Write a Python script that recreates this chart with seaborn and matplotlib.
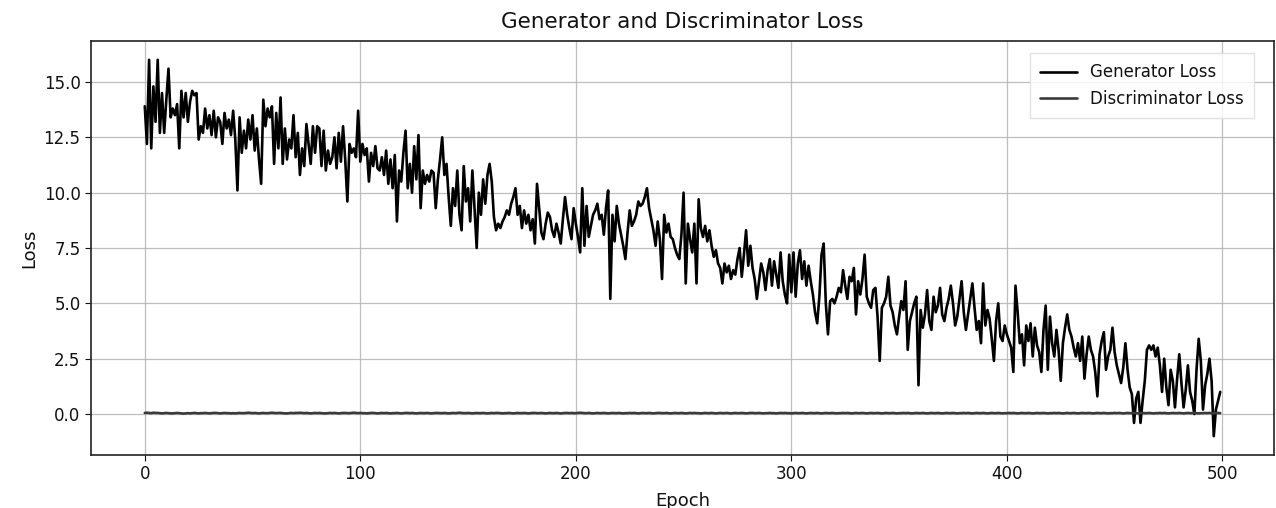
import matplotlib
matplotlib.use("Agg")
import matplotlib.pyplot as plt
import seaborn as sns
import pandas as pd

# generator loss per epoch (0..499)
gen_loss = [
    13.9, 12.2, 16.0, 12.0, 14.8, 13.2, 16.0, 12.7, 14.5, 12.7,
    14.2, 15.6, 13.4, 13.8, 13.5, 14.0, 12.0, 14.6, 13.4, 14.5,
    13.2, 14.1, 14.6, 14.4, 14.5, 12.4, 13.0, 12.7, 13.8, 12.9,
    13.5, 12.6, 13.7, 12.5, 13.4, 13.2, 12.2, 13.6, 12.9, 13.3,
    12.6, 13.7, 12.4, 10.1, 13.4, 11.8, 12.8, 12.0, 13.3, 12.4,
    13.5, 11.9, 12.9, 11.5, 10.4, 14.2, 13.0, 13.8, 13.4, 13.9,
    11.3, 13.6, 12.0, 14.3, 11.3, 12.9, 11.5, 12.4, 12.0, 13.5,
    11.6, 12.7, 10.8, 12.0, 11.2, 13.1, 12.2, 11.3, 13.0, 11.8,
    13.0, 12.9, 11.2, 12.8, 11.0, 11.9, 11.3, 11.6, 12.5, 11.1,
    12.7, 11.4, 13.0, 11.5, 9.6, 12.2, 11.8, 12.0, 11.6, 13.7,
    11.4, 12.2, 11.7, 12.0, 10.5, 11.8, 11.2, 12.1, 11.1, 11.0,
    11.6, 10.8, 11.9, 10.4, 11.5, 10.2, 11.7, 8.7, 11.0, 10.5,
    11.8, 12.8, 10.2, 11.3, 10.0, 12.1, 10.6, 12.6, 9.3, 11.0,
    10.4, 10.8, 10.5, 11.0, 10.9, 9.3, 10.6, 11.5, 12.5, 10.8,
    11.3, 9.8, 8.5, 10.2, 9.4, 11.0, 9.0, 8.3, 11.2, 9.6,
    10.2, 8.7, 11.0, 9.3, 7.5, 10.0, 9.0, 10.6, 9.5, 10.8,
    11.3, 10.5, 8.9, 8.3, 8.6, 8.4, 8.7, 8.9, 9.2, 9.0,
    9.5, 9.8, 10.2, 9.0, 9.4, 8.4, 9.2, 8.6, 9.0, 8.3,
    8.8, 7.7, 10.4, 9.3, 8.2, 7.9, 8.6, 9.1, 8.9, 8.3,
    8.0, 8.6, 8.2, 7.7, 8.8, 9.8, 9.0, 8.4, 7.9, 9.3,
    8.6, 8.0, 7.3, 10.2, 7.6, 9.4, 8.0, 8.5, 9.0, 9.2,
    9.5, 8.8, 9.0, 8.1, 9.3, 10.1, 5.2, 9.0, 7.8, 9.4,
    8.6, 8.1, 7.6, 7.0, 8.2, 9.2, 8.5, 8.7, 9.0, 9.6,
    9.4, 9.5, 9.8, 10.2, 9.3, 8.8, 8.3, 7.6, 8.7, 7.9,
    6.1, 9.0, 8.2, 8.6, 8.0, 7.9, 7.5, 7.2, 7.0, 8.1,
    10.0, 5.9, 8.6, 7.9, 7.3, 8.6, 5.9, 9.7, 8.4, 8.0,
    8.5, 7.8, 8.3, 7.6, 7.1, 7.4, 6.8, 6.6, 5.9, 6.8,
    6.4, 6.7, 6.1, 6.5, 6.3, 7.0, 7.5, 6.2, 7.2, 8.3,
    6.7, 7.6, 6.6, 6.1, 5.2, 6.0, 6.8, 6.4, 5.6, 6.5,
    7.0, 5.8, 6.9, 6.3, 5.7, 7.3, 6.0, 5.4, 5.0, 7.2,
    5.5, 7.3, 5.3, 6.8, 7.4, 6.1, 6.9, 5.8, 6.7, 6.0,
    5.4, 4.6, 4.1, 5.3, 7.2, 7.7, 5.0, 3.6, 5.1, 5.2,
    5.0, 5.3, 5.7, 5.5, 6.5, 5.8, 5.2, 6.2, 6.0, 6.6,
    4.5, 6.0, 5.4, 6.1, 7.2, 5.3, 5.0, 4.8, 5.6, 5.7,
    4.4, 2.4, 4.8, 5.0, 5.3, 6.2, 4.9, 4.6, 4.0, 3.6,
    4.4, 5.1, 4.7, 6.0, 2.9, 4.2, 4.6, 5.0, 5.3, 1.3,
    4.7, 3.9, 4.5, 5.6, 4.2, 3.8, 5.3, 4.6, 4.9, 5.7,
    4.5, 4.2, 4.8, 5.2, 5.8, 5.0, 4.0, 4.4, 5.2, 6.0,
    4.6, 3.8, 4.5, 5.2, 5.9, 4.8, 3.8, 4.2, 3.2, 5.9,
    4.0, 4.7, 4.3, 3.4, 2.4, 4.2, 5.0, 3.5, 3.3, 4.0,
    3.6, 3.3, 3.0, 1.9, 5.8, 4.6, 3.2, 3.6, 2.2, 4.0,
    3.3, 4.1, 2.6, 3.9, 3.1, 2.8, 1.9, 3.8, 4.9, 2.0,
    4.4, 3.2, 2.6, 3.8, 2.9, 1.5, 3.2, 3.9, 4.5, 3.8,
    3.5, 3.0, 2.6, 3.2, 2.4, 3.5, 1.6, 2.7, 3.5, 2.9,
    2.6, 1.9, 0.8, 2.7, 3.3, 3.7, 2.0, 2.6, 2.9, 3.9,
    2.8, 2.2, 1.8, 1.4, 2.1, 3.2, 2.0, 1.2, 0.9, -0.4,
    0.7, 1.0, -0.4, 0.6, 1.5, 2.9, 3.1, 2.9, 3.1, 2.6,
    3.0, 2.2, 1.0, 2.5, 1.2, 0.4, 2.0, 1.5, 0.3, 1.6,
    2.7, 1.4, 0.3, 1.1, 2.2, 1.0, 0.6, 0.0, 2.0, 3.4,
    2.4, 0.2, 1.3, 1.8, 2.5, 1.5, -1.0, 0.2, 0.6, 1.0,
]

# discriminator loss per epoch, hugging zero
disc_loss = [
    0.05, 0.06, 0.05, 0.04, 0.06, 0.05, 0.05, 0.04, 0.03, 0.04,
    0.05, 0.04, 0.03, 0.03, 0.04, 0.05, 0.04, 0.03, 0.02, 0.03,
    0.04, 0.03, 0.04, 0.05, 0.04, 0.03, 0.04, 0.04, 0.05, 0.04,
    0.03, 0.04, 0.05, 0.05, 0.04, 0.03, 0.04, 0.05, 0.04, 0.04,
    0.03, 0.04, 0.03, 0.04, 0.05, 0.04, 0.04, 0.05, 0.06, 0.05,
    0.04, 0.05, 0.04, 0.03, 0.04, 0.05, 0.04, 0.04, 0.05, 0.06,
    0.05, 0.04, 0.05, 0.05, 0.04, 0.03, 0.03, 0.04, 0.05, 0.04,
    0.05, 0.05, 0.06, 0.05, 0.04, 0.05, 0.04, 0.03, 0.04, 0.05,
    0.04, 0.05, 0.04, 0.03, 0.03, 0.04, 0.05, 0.04, 0.05, 0.04,
    0.03, 0.04, 0.05, 0.05, 0.04, 0.04, 0.05, 0.06, 0.05, 0.04,
    0.05, 0.04, 0.04, 0.03, 0.04, 0.05, 0.05, 0.04, 0.03, 0.04,
    0.05, 0.04, 0.05, 0.04, 0.03, 0.04, 0.04, 0.05, 0.04, 0.03,
    0.04, 0.05, 0.05, 0.04, 0.05, 0.04, 0.03, 0.04, 0.05, 0.04,
    0.04, 0.05, 0.04, 0.03, 0.04, 0.05, 0.05, 0.04, 0.04, 0.05,
    0.04, 0.03, 0.04, 0.05, 0.04, 0.05, 0.06, 0.05, 0.04, 0.04,
    0.05, 0.04, 0.03, 0.04, 0.05, 0.04, 0.04, 0.05, 0.04, 0.03,
    0.04, 0.05, 0.04, 0.05, 0.05, 0.04, 0.03, 0.04, 0.04, 0.05,
    0.04, 0.03, 0.04, 0.05, 0.04, 0.04, 0.05, 0.04, 0.03, 0.04,
    0.05, 0.05, 0.04, 0.04, 0.05, 0.04, 0.03, 0.04, 0.05, 0.04,
    0.04, 0.05, 0.04, 0.03, 0.04, 0.05, 0.05, 0.04, 0.05, 0.04,
    0.04, 0.05, 0.06, 0.05, 0.04, 0.04, 0.05, 0.04, 0.03, 0.04,
    0.05, 0.04, 0.04, 0.05, 0.04, 0.03, 0.04, 0.05, 0.04, 0.04,
    0.05, 0.04, 0.03, 0.04, 0.04, 0.05, 0.04, 0.05, 0.04, 0.03,
    0.04, 0.05, 0.04, 0.04, 0.05, 0.04, 0.03, 0.04, 0.05, 0.05,
    0.04, 0.04, 0.05, 0.04, 0.03, 0.04, 0.05, 0.04, 0.04, 0.05,
    0.04, 0.03, 0.04, 0.05, 0.04, 0.05, 0.04, 0.04, 0.03, 0.04,
    0.05, 0.04, 0.04, 0.05, 0.04, 0.03, 0.04, 0.05, 0.04, 0.04,
    0.05, 0.04, 0.03, 0.04, 0.05, 0.04, 0.04, 0.05, 0.04, 0.03,
    0.04, 0.05, 0.05, 0.04, 0.04, 0.05, 0.04, 0.03, 0.04, 0.04,
    0.05, 0.04, 0.04, 0.03, 0.04, 0.05, 0.04, 0.05, 0.04, 0.04,
    0.03, 0.04, 0.05, 0.04, 0.04, 0.05, 0.04, 0.03, 0.04, 0.05,
    0.04, 0.04, 0.05, 0.04, 0.03, 0.04, 0.05, 0.04, 0.04, 0.05,
    0.04, 0.03, 0.04, 0.04, 0.05, 0.04, 0.05, 0.04, 0.03, 0.04,
    0.05, 0.04, 0.04, 0.05, 0.04, 0.03, 0.04, 0.05, 0.04, 0.04,
    0.05, 0.04, 0.03, 0.04, 0.05, 0.04, 0.04, 0.05, 0.04, 0.03,
    0.04, 0.04, 0.05, 0.04, 0.05, 0.04, 0.03, 0.04, 0.05, 0.04,
    0.04, 0.05, 0.04, 0.03, 0.04, 0.05, 0.04, 0.04, 0.05, 0.04,
    0.03, 0.04, 0.05, 0.04, 0.04, 0.05, 0.04, 0.03, 0.04, 0.04,
    0.05, 0.04, 0.05, 0.04, 0.03, 0.04, 0.05, 0.04, 0.04, 0.05,
    0.04, 0.03, 0.04, 0.05, 0.04, 0.04, 0.05, 0.04, 0.03, 0.04,
    0.04, 0.05, 0.04, 0.05, 0.04, 0.03, 0.04, 0.05, 0.04, 0.04,
    0.05, 0.04, 0.03, 0.04, 0.05, 0.04, 0.04, 0.05, 0.04, 0.03,
    0.04, 0.04, 0.05, 0.04, 0.05, 0.04, 0.03, 0.04, 0.05, 0.04,
    0.04, 0.05, 0.04, 0.03, 0.04, 0.05, 0.04, 0.04, 0.05, 0.04,
    0.03, 0.04, 0.05, 0.04, 0.04, 0.05, 0.04, 0.03, 0.04, 0.04,
    0.05, 0.04, 0.05, 0.04, 0.03, 0.04, 0.05, 0.04, 0.04, 0.05,
    0.04, 0.03, 0.04, 0.05, 0.04, 0.04, 0.05, 0.04, 0.03, 0.04,
    0.04, 0.05, 0.04, 0.05, 0.04, 0.03, 0.04, 0.05, 0.04, 0.04,
    0.05, 0.04, 0.03, 0.04, 0.05, 0.04, 0.04, 0.05, 0.04, 0.03,
    0.04, 0.04, 0.05, 0.04, 0.05, 0.04, 0.03, 0.04, 0.05, 0.04,
]

series_names = ["Generator Loss", "Discriminator Loss"]
line_colors = ["#000000", "#3a3a3a"]

epochs = list(range(len(gen_loss)))
df = pd.DataFrame({
    "Epoch": epochs * 2,
    "Loss": gen_loss + disc_loss,
    "series": [series_names[0]] * len(gen_loss) + [series_names[1]] * len(disc_loss),
})

sns.set_style("ticks")
plt.rcParams["font.family"] = ["DejaVu Sans"]
plt.rcParams["text.color"] = "#111111"
plt.rcParams["axes.labelcolor"] = "#111111"

fig = plt.figure(figsize=(12.76, 5.08), dpi=100)
ax = fig.add_axes([91 / 1276, 1 - 455 / 508, 1183 / 1276, 414 / 508])

sns.lineplot(data=df, x="Epoch", y="Loss", hue="series", palette=line_colors,
             linewidth=1.9, ax=ax)

ax.grid(True, color="#b0b0b0", linewidth=0.9, alpha=0.8)
ax.set_axisbelow(True)
for sp in ax.spines.values():
    sp.set_color("#222222")
    sp.set_linewidth(1.2)
ax.tick_params(labelsize=12, colors="#111111", length=4)
ax.set_xlabel("Epoch", fontsize=13, labelpad=6)
ax.set_ylabel("Loss", fontsize=13)
ax.set_title("Generator and Discriminator Loss", fontsize=15.5, pad=9)
ax.set_xticks([0, 100, 200, 300, 400, 500])
ax.set_yticks([0.0, 2.5, 5.0, 7.5, 10.0, 12.5, 15.0])
ax.set_yticklabels(["0.0", "2.5", "5.0", "7.5", "10.0", "12.5", "15.0"])

leg = ax.legend(loc="upper right", fontsize=12, frameon=True, fancybox=False,
                borderpad=0.6, handlelength=2.2, bbox_to_anchor=(0.99, 0.99))
leg.set_title(None)
leg.get_frame().set_edgecolor("#dddddd")

fig.savefig("out.png", dpi=100)
